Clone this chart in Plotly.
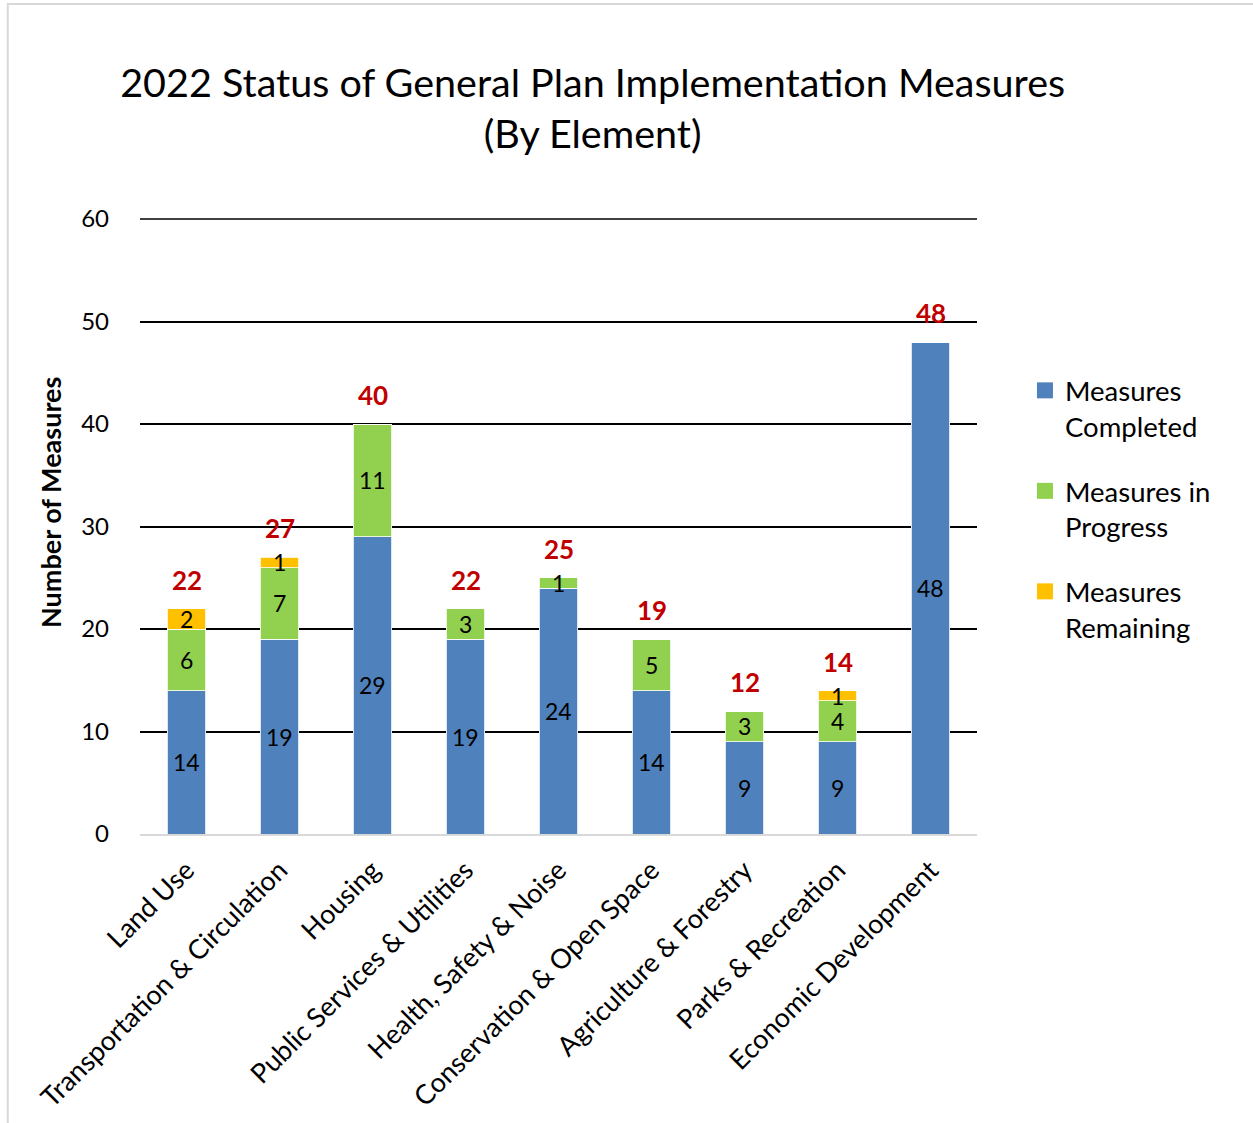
import plotly.graph_objects as go

categories = ["Land Use", "Transportation & Circulation", "Housing",
              "Public Services & Utilities", "Health, Safety & Noise",
              "Conservation & Open Space", "Agriculture & Forestry",
              "Parks & Recreation", "Economic Development"]
completed = [14, 19, 29, 19, 24, 14, 9, 9, 48]
in_progress = [6, 7, 11, 3, 1, 5, 3, 4, 0]
remaining = [2, 1, 0, 0, 0, 0, 0, 1, 0]
y_ticks = [0, 10, 20, 30, 40, 50, 60]

FONT = "Lato"
series = [
    ("Measures<br>Completed", completed, "#4F81BD"),
    ("Measures in<br>Progress", in_progress, "#92D050"),
    ("Measures<br>Remaining", remaining, "#FFC000"),
]

fig = go.Figure()
for name, vals, color in series:
    fig.add_trace(go.Bar(
        x=categories, y=vals, name=name, showlegend=False,
        marker=dict(color=color, line=dict(color="white", width=0.8)),
    ))
# legend entries with larger square swatches
for k, (name, vals, color) in enumerate(series):
    fig.add_trace(go.Scatter(
        x=[categories[0]], y=[None], mode="markers", name=name,
        legendgroup="g%d" % k,
        marker=dict(symbol="square", size=16, color=color)))

annotations = []
base = [0] * len(categories)
for name, vals, color in series:
    for i, v in enumerate(vals):
        if v > 0:
            annotations.append(dict(
                x=categories[i], y=base[i] + v / 2, xref="x", yref="y",
                text=str(v), showarrow=False,
                font=dict(family=FONT, size=23, color="black")))
        base[i] += v
for i, t in enumerate(base):
    annotations.append(dict(
        x=categories[i], y=t, xref="x", yref="y", text="<b>%d</b>" % t,
        showarrow=False, yanchor="bottom", yshift=11,
        font=dict(family=FONT, size=26, color="#C00000")))
annotations.append(dict(
    x=(50 - 140) / 837, y=(834 - 503) / 615, xref="paper", yref="paper",
    text="<b>Number of Measures</b>", textangle=-90, showarrow=False,
    xanchor="center", yanchor="middle",
    font=dict(family=FONT, size=27, color="black")))

fig.update_layout(
    width=1253, height=1123,
    barmode="stack", bargap=0.59,
    paper_bgcolor="white", plot_bgcolor="white",
    margin=dict(l=140, r=276, t=219, b=289, autoexpand=False),
    title=dict(text="2022 Status of General Plan Implementation Measures<br>(By Element)",
               x=0.473, xanchor="center", y=0.914, yanchor="top",
               font=dict(family=FONT, size=39.5, color="black")),
    font=dict(family=FONT, color="black"),
    legend=dict(x=1.0573, y=0.761, xanchor="left", yanchor="top",
                font=dict(family=FONT, size=27.5, color="black"),
                tracegroupgap=26, itemwidth=30, traceorder="grouped",
                valign="top"),
    annotations=annotations,
    shapes=[
        dict(type="rect", xref="paper", yref="paper",
             x0=-0.158, x1=1.6, y0=-1.0, y1=1.3496,
             line=dict(color="#D9D9D9", width=2), layer="below"),
        # top gridline at the top of the range (plotly hides edge gridlines)
        dict(type="line", xref="paper", yref="paper", x0=0, x1=1,
             y0=1, y1=1, line=dict(color="black", width=1.5), layer="above"),
    ],
)
fig.update_yaxes(range=[y_ticks[0], y_ticks[-1]], tickvals=y_ticks, showgrid=True,
                 gridcolor="black", gridwidth=1.5, zeroline=False,
                 showline=False, ticks="", ticklabelstandoff=30,
                 tickfont=dict(family=FONT, size=24, color="black"))
fig.update_xaxes(range=[-0.5, 8.5], tickangle=-45, showline=True,
                 linecolor="#D9D9D9", linewidth=1.5, ticks="",
                 ticklabelstandoff=8,
                 tickfont=dict(family=FONT, size=27, color="black"))

fig.write_html("out.html")
